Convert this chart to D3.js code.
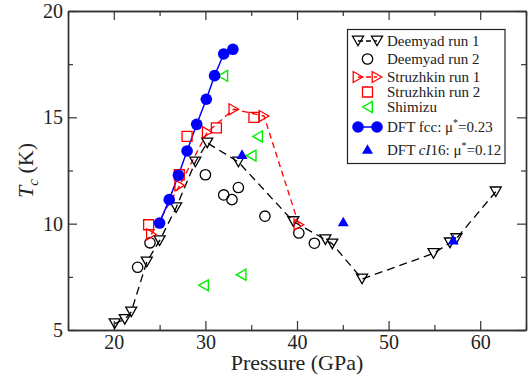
<!DOCTYPE html>
<html>
<head>
<meta charset="utf-8">
<script src="https://cdn.jsdelivr.net/npm/d3@7"></script>
<style>
  body { margin: 0; background: #fff; }
  svg text { font-family: "Liberation Serif", "Times New Roman", Times, "DejaVu Serif", serif; fill: #222; }
</style>
</head>
<body>
<svg id="chart" width="531" height="381" font-family="Liberation Serif, Times New Roman, serif"></svg>
<script>
// data: [pressure GPa, Tc K]
const deemyad1 = [[20.1,5.3],[21.2,5.5],[21.9,5.85],[23.6,8.2],[25.0,9.2],[26.8,10.75],[28.9,12.9],[30.2,13.8],[33.6,12.9],[39.6,10.1],[43.1,9.25],[43.85,9.05],[47.1,7.4],[54.9,8.6],[56.7,9.1],[57.4,9.3],[61.7,11.5]]
const deemyad2 = [[22.6,7.95],[23.95,9.1],[30.0,12.3],[32.0,11.35],[32.9,11.13],[33.6,11.7],[36.5,10.35],[40.2,9.56],[41.9,9.08]]
const struzhkin1 = [[24.1,9.5],[27.2,11.8],[30.2,14.3],[33.1,15.38],[36.4,15.06],[40.2,9.95]]
const struzhkin2 = [[23.8,9.95],[27.15,12.3],[28.0,14.1],[31.2,14.5],[35.3,15.0]]
const shimizu = [[29.8,7.1],[31.9,16.95],[33.9,7.6],[35.0,13.2],[35.7,14.1]]
const dftFcc = [[25.0,10.03],[26.05,11.13],[27.05,12.28],[28.0,13.42],[29.05,14.67],[30.1,15.85],[31.0,16.96],[32.0,17.98],[33.0,18.2]]
const dftCI16 = [[34.0,13.27],[45.05,10.1],[57.05,9.25]]

const xMajor = [20,30,40,50,60]
const xMinor = [15,25,35,45,55,65]
const yMajor = [5,10,15,20]
const yMinor = [7.5,12.5,17.5]

var serif = "Liberation Serif, Times New Roman, Times, DejaVu Serif, serif"
var svg = d3.select("#chart")
var mLeft = 68, mRight = 526, mTop = 11, mBottom = 330

var x = d3.scaleLinear().domain([15,65]).range([mLeft,mRight])
var y = d3.scaleLinear().domain([5,20]).range([mBottom,mTop])

// frame + ticks (all inward)
function styleAxis(g){
  g.attr("font-family", serif)
  g.select(".domain").attr("stroke","#333").attr("stroke-width",1.4)
  g.selectAll(".tick line").attr("stroke","#333").attr("stroke-width",1.2)
  g.selectAll(".tick text").attr("font-size","20px").attr("font-family",serif).attr("fill","#222")
}
svg.append("g").attr("transform","translate(0,"+mBottom+")")
  .call(d3.axisBottom(x).tickValues(xMajor).tickSize(-9).tickSizeOuter(0).tickPadding(5))
  .call(styleAxis)
svg.append("g").attr("transform","translate(0,"+mBottom+")")
  .call(d3.axisBottom(x).tickValues(xMinor).tickSize(-5).tickSizeOuter(0).tickFormat(""))
  .call(styleAxis)
svg.append("g").attr("transform","translate(0,"+mTop+")")
  .call(d3.axisTop(x).tickValues(xMajor).tickSize(-9).tickSizeOuter(0).tickFormat(""))
  .call(styleAxis)
svg.append("g").attr("transform","translate(0,"+mTop+")")
  .call(d3.axisTop(x).tickValues(xMinor).tickSize(-5).tickSizeOuter(0).tickFormat(""))
  .call(styleAxis)
svg.append("g").attr("transform","translate("+mLeft+",0)")
  .call(d3.axisLeft(y).tickValues(yMajor).tickSize(-9).tickSizeOuter(0).tickPadding(5))
  .call(styleAxis)
svg.append("g").attr("transform","translate("+mLeft+",0)")
  .call(d3.axisLeft(y).tickValues(yMinor).tickSize(-5).tickSizeOuter(0).tickFormat(""))
  .call(styleAxis)
svg.append("g").attr("transform","translate("+mRight+",0)")
  .call(d3.axisRight(y).tickValues(yMajor).tickSize(-9).tickSizeOuter(0).tickFormat(""))
  .call(styleAxis)
svg.append("g").attr("transform","translate("+mRight+",0)")
  .call(d3.axisRight(y).tickValues(yMinor).tickSize(-5).tickSizeOuter(0).tickFormat(""))
  .call(styleAxis)

// axis titles
svg.append("text").attr("x",297).attr("y",370).attr("text-anchor","middle")
  .attr("font-family",serif).attr("font-size","22px").text("Pressure (GPa)")
var yl = svg.append("text").attr("transform","translate(33,"+((mTop+mBottom)/2)+") rotate(-90)")
  .attr("text-anchor","middle").attr("font-family",serif).attr("font-size","22px")
yl.append("tspan").attr("font-style","italic").text("T")
yl.append("tspan").attr("font-style","italic").attr("font-size","15px").attr("dy",5).text("c")
yl.append("tspan").attr("dy",-5).text(" (K)")

// symbol helpers
var tri = 11
function downTri(cx,cy){ var h=tri*0.87; return "M"+(cx-tri/2)+","+(cy-h/2)+"L"+(cx+tri/2)+","+(cy-h/2)+"L"+cx+","+(cy+h/2)+"Z" }
function upTri(cx,cy){ var h=tri*0.87; return "M"+(cx-tri/2)+","+(cy+h/2)+"L"+(cx+tri/2)+","+(cy+h/2)+"L"+cx+","+(cy-h/2)+"Z" }
function rightTri(cx,cy){ var w=tri*0.87; return "M"+(cx-w/2)+","+(cy-tri/2)+"L"+(cx-w/2)+","+(cy+tri/2)+"L"+(cx+w/2)+","+cy+"Z" }
function leftTri(cx,cy){ var w=tri*0.87; return "M"+(cx+w/2)+","+(cy-tri/2)+"L"+(cx+w/2)+","+(cy+tri/2)+"L"+(cx-w/2)+","+cy+"Z" }
function square(cx,cy){ var s=10; return "M"+(cx-s/2)+","+(cy-s/2)+"h"+s+"v"+s+"h"+(-s)+"Z" }

var line = d3.line().x(d=>x(d[0])).y(d=>y(d[1]))
var plot = svg.append("g")

// lines
plot.append("path").datum(deemyad1).attr("d",line).attr("fill","none")
  .attr("stroke","#000").attr("stroke-width",1.3).attr("stroke-dasharray","8,5")
plot.append("path").datum(struzhkin1).attr("d",line).attr("fill","none")
  .attr("stroke","#ff0000").attr("stroke-width",1.3).attr("stroke-dasharray","6,4")
plot.append("path").datum(dftFcc).attr("d",line).attr("fill","none")
  .attr("stroke","#0000ff").attr("stroke-width",1.5)

// markers
plot.selectAll(".d2").data(deemyad2).enter().append("circle").attr("class","d2")
  .attr("cx",d=>x(d[0])).attr("cy",d=>y(d[1])).attr("r",5.2)
  .attr("fill","none").attr("stroke","#000").attr("stroke-width",1.3)
plot.selectAll(".d1").data(deemyad1).enter().append("path").attr("class","d1")
  .attr("d",d=>downTri(x(d[0]),y(d[1]))).attr("fill","none").attr("stroke","#000").attr("stroke-width",1.3)
plot.selectAll(".s2").data(struzhkin2).enter().append("path").attr("class","s2")
  .attr("d",d=>square(x(d[0]),y(d[1]))).attr("fill","none").attr("stroke","#ff0000").attr("stroke-width",1.3)
plot.selectAll(".s1").data(struzhkin1).enter().append("path").attr("class","s1")
  .attr("d",d=>rightTri(x(d[0]),y(d[1]))).attr("fill","none").attr("stroke","#ff0000").attr("stroke-width",1.3)
plot.selectAll(".sh").data(shimizu).enter().append("path").attr("class","sh")
  .attr("d",d=>leftTri(x(d[0]),y(d[1]))).attr("fill","none").attr("stroke","#00ee00").attr("stroke-width",1.4)
plot.selectAll(".fcc").data(dftFcc).enter().append("circle").attr("class","fcc")
  .attr("cx",d=>x(d[0])).attr("cy",d=>y(d[1])).attr("r",5.8).attr("fill","#0000ff")
plot.selectAll(".ci").data(dftCI16).enter().append("path").attr("class","ci")
  .attr("d",d=>upTri(x(d[0]),y(d[1]))).attr("fill","#0000ff")

// legend
var lg = svg.append("g").attr("font-family",serif)
lg.append("rect").attr("x",347.5).attr("y",29.5).attr("width",157.5).attr("height",134)
  .attr("fill","#fff").attr("stroke","#222").attr("stroke-width",1.2)
var tx = 387, ls = 15
function lgText(yc,txt){ return lg.append("text").attr("x",tx).attr("y",yc+5).attr("font-family",serif).attr("font-size",ls+"px").text(txt) }

var r1 = 41
lg.append("line").attr("x1",358).attr("x2",377).attr("y1",r1).attr("y2",r1).attr("stroke","#000").attr("stroke-width",1.3).attr("stroke-dasharray","5,3")
lg.append("path").attr("d",downTri(358,r1)).attr("fill","none").attr("stroke","#000").attr("stroke-width",1.3)
lg.append("path").attr("d",downTri(377,r1)).attr("fill","none").attr("stroke","#000").attr("stroke-width",1.3)
lgText(r1,"Deemyad run 1")

var r2 = 59
lg.append("circle").attr("cx",367.5).attr("cy",r2).attr("r",5.2).attr("fill","none").attr("stroke","#000").attr("stroke-width",1.3)
lgText(r2,"Deemyad run 2")

var r3 = 77
lg.append("line").attr("x1",358).attr("x2",377).attr("y1",r3).attr("y2",r3).attr("stroke","#ff0000").attr("stroke-width",1.3).attr("stroke-dasharray","5,3")
lg.append("path").attr("d",rightTri(358,r3)).attr("fill","none").attr("stroke","#ff0000").attr("stroke-width",1.3)
lg.append("path").attr("d",rightTri(377,r3)).attr("fill","none").attr("stroke","#ff0000").attr("stroke-width",1.3)
lgText(r3,"Struzhkin run 1")

var r4 = 92
lg.append("path").attr("d",square(367.5,r4)).attr("fill","none").attr("stroke","#ff0000").attr("stroke-width",1.3)
lgText(r4,"Struzhkin run 2")

var r5 = 107
lg.append("path").attr("d",leftTri(367.5,r5)).attr("fill","none").attr("stroke","#00ee00").attr("stroke-width",1.4)
lgText(r5,"Shimizu")

var r6 = 127
lg.append("line").attr("x1",358).attr("x2",377).attr("y1",r6).attr("y2",r6).attr("stroke","#0000ff").attr("stroke-width",1.5)
lg.append("circle").attr("cx",358).attr("cy",r6).attr("r",5.8).attr("fill","#0000ff")
lg.append("circle").attr("cx",377).attr("cy",r6).attr("r",5.8).attr("fill","#0000ff")
var t6 = lgText(r6,"DFT fcc: μ")
t6.append("tspan").attr("font-size","10px").attr("dy",-6).text("*")
t6.append("tspan").attr("dy",6).text("=0.23")

var r7 = 150
lg.append("path").attr("d",upTri(367.5,r7-1)).attr("fill","#0000ff")
var t7 = lgText(r7,"DFT ")
t7.append("tspan").attr("font-style","italic").text("cI")
t7.append("tspan").text("16: μ")
t7.append("tspan").attr("font-size","10px").attr("dy",-6).text("*")
t7.append("tspan").attr("dy",6).text("=0.12")
</script>
</body>
</html>
